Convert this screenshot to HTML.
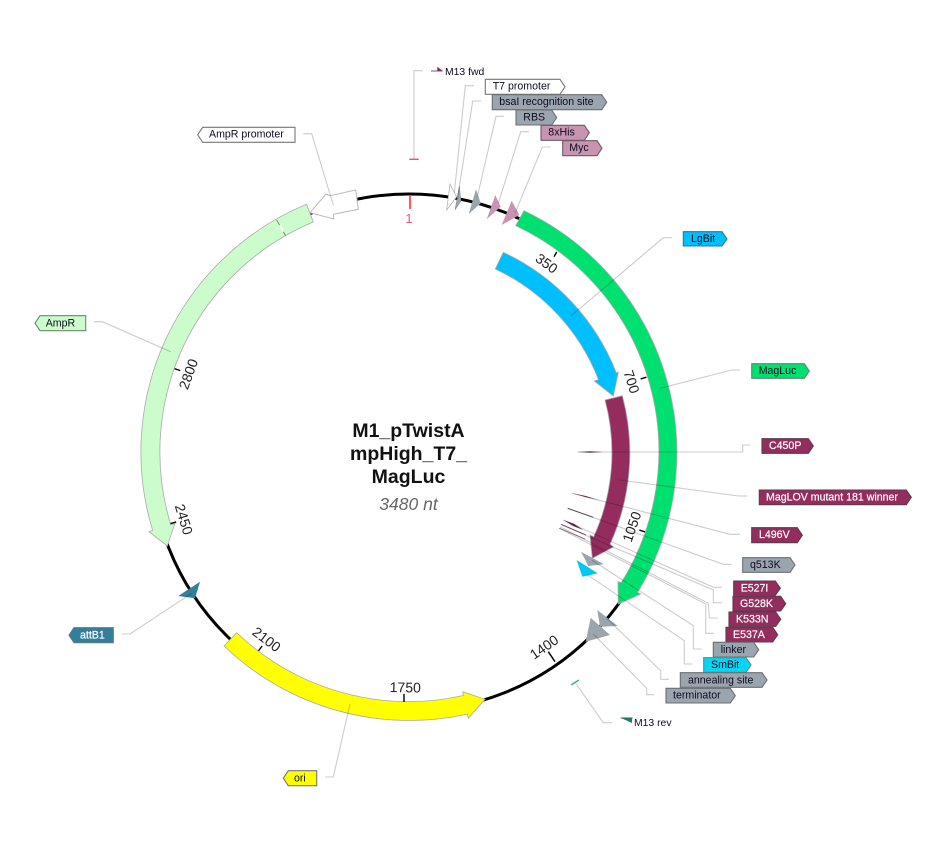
<!DOCTYPE html>
<html>
<head>
<meta charset="utf-8">
<style>
html,body{margin:0;padding:0;background:#fff;width:939px;height:843px;overflow:hidden}
svg{display:block;filter:blur(.3px)}
text{font-family:"Liberation Sans",sans-serif}
.l{font-size:10.6px;fill:#0c0c20}
.w{font-size:10.6px;fill:#fff;stroke:#fff;stroke-width:.2}
.n{font-size:14px;fill:#222;text-anchor:middle;dominant-baseline:central}
.t{font-size:19.5px;font-weight:bold;fill:#111;text-anchor:middle}
.b{stroke:#aaa;stroke-width:.8}
.p polyline{fill:none;stroke:#000;stroke-opacity:.2;stroke-width:1.1}
.lb{stroke-width:1.1}
.g{fill:#9ba5ae;stroke:#6b6f73}
.m{fill:#942d5e;stroke:#5a3a4a}
.pk{fill:#c994b0;stroke:#6d5a65}
.k{stroke:#000;stroke-width:1.4}
</style>
</head>
<body>
<svg width="939" height="843" viewBox="0 0 939 843" xmlns="http://www.w3.org/2000/svg">
<rect width="939" height="843" fill="#fff"/>
<!-- backbone -->
<circle cx="409" cy="452.5" r="258.5" fill="none" stroke="#000" stroke-width="3"/>

<!-- features -->
<path class="b" fill="#00e070" d="M524,210.7 A268 268 0 0 1 637.5,592.5 L640.7,594 L618.3,604 L618,581.7 L621.3,582.6 A249 249 0 0 0 515.7,225.7 Z"/>
<path class="b" fill="#00bfff" d="M503.3,252.3 A222 222 0 0 1 616.3,372.9 L618.3,372.3 L613.3,396 L594.3,381 L598.5,379.7 A203 203 0 0 0 495.3,269 Z"/>
<path class="b" fill="#942d5e" d="M622.3,395.7 A221 221 0 0 1 610.1,544.1 L613.3,547 L592.3,558.3 L590,535 L593.7,536.7 A203 203 0 0 0 605,400 Z"/>
<path class="b" fill="#ffff00" d="M224,646 A268 268 0 0 0 467.5,714.1 L468.3,718.3 L485,699.3 L462.7,691.7 L463.3,695.5 A249 249 0 0 1 236.7,632.7 Z"/>
<path class="b" fill="#ccfccc" d="M306.6,204.3 L313.3,222 A249 249 0 0 0 170.8,524.9 L175,523.3 L167.3,546 L149,531.7 L152.6,530.4 A268 268 0 0 1 306.6,204.3 Z"/>
<line x1="276.7" y1="220" x2="285.7" y2="236" stroke="#777" stroke-width=".8"/>
<line x1="280" y1="225" x2="283.3" y2="231.7" stroke="#fff" stroke-width="1.8"/>
<polygon fill="#fff" stroke="#bbb" stroke-width="1" points="355.7,190 358.3,209.3 333.3,214.3 334,219 310,212.7 326,194 330,195.7"/>

<!-- small triangles -->
<polygon fill="#fff" stroke="#aaa" stroke-width=".7" points="450,184 456.5,197 446.7,210"/>
<polygon fill="#9ba5ae" stroke="#888" stroke-width=".5" points="459.3,186 461,201 455,210"/>
<polygon fill="#9ba5ae" points="476,189.3 480.7,203.3 468.7,214"/>
<polygon fill="#c994b0" points="495.3,195 500.7,206.7 486.7,219.3"/>
<polygon fill="#c994b0" points="511.7,200.7 519.3,215 501.7,225"/>
<polygon fill="#9ba5ae" points="581,551.7 604,564.3 588.3,566"/>
<polygon fill="#00c8f5" points="576.7,560 597.7,573.3 582.3,576.7"/>
<polygon fill="#9ba5ae" points="597.3,610 617.7,626 600,626.7"/>
<polygon fill="#9ba5ae" points="590.7,617.7 610,635 585.7,641.7"/>
<polygon fill="#337f9b" points="200,581.7 178.3,596 195,598.3"/>

<!-- ticks -->
<line class="k" x1="554" y1="256.7" x2="556.7" y2="252"/>
<line class="k" x1="640.6" y1="379" x2="646.4" y2="377.2"/>
<line class="k" x1="639.3" y1="530" x2="645" y2="531.9"/>
<line class="k" x1="548.3" y1="651.7" x2="555" y2="661.7"/>
<line class="k" x1="404" y1="694" x2="404" y2="702"/>
<line class="k" x1="262.1" y1="646" x2="258.5" y2="650.8"/>
<line class="k" x1="176.2" y1="521.9" x2="170.5" y2="523.6"/>
<line class="k" x1="180.2" y1="370.6" x2="174.6" y2="368.6"/>
<line x1="410" y1="196" x2="410" y2="209" stroke="#f22" stroke-width="1.5"/>

<!-- number labels -->
<text class="n" transform="translate(546.7 263.3) rotate(36)">350</text>
<text class="n" transform="translate(631.7 381.7) rotate(72)">700</text>
<text class="n" transform="translate(631.7 526.7) rotate(-71)">1050</text>
<text class="n" transform="translate(544 647) rotate(-35)">1400</text>
<text class="n" transform="translate(405.3 687.3) rotate(1)">1750</text>
<text class="n" transform="translate(266.7 639.3) rotate(37)">2100</text>
<text class="n" transform="translate(184 519.3) rotate(73)">2450</text>
<text class="n" transform="translate(188.3 374) rotate(-70)">2800</text>
<text x="409" y="223" font-size="13" fill="#f0508a" text-anchor="middle">1</text>

<!-- variation marks -->
<polygon fill="#7d3a5c" points="577,452 590,451.2 603,452 590,452.8"/>
<polygon fill="#7d3a5c" points="572.3,493.3 586,496 598.3,500 586,497.2"/>
<line x1="567.7" y1="508.3" x2="593.3" y2="517.3" stroke="#6a5a64" stroke-width=".9"/>
<polygon fill="#6d2a4c" points="563.3,520 574,523.8 583.3,530 573,526"/>
<line x1="561" y1="524.3" x2="586" y2="535" stroke="#7d3a5c" stroke-width=".8"/>
<line x1="559.3" y1="528.3" x2="585" y2="539" stroke="#8a7080" stroke-width=".8"/>

<!-- leaders -->
<g class="p">
<polyline points="414,159 414,70.7 422.7,70.7"/>
<polyline points="474,85.7 465.3,85.7 454.3,193"/>
<polyline points="481,101 472.7,101 457.3,200"/>
<polyline points="504,116.3 496,116.3 477.3,196.7"/>
<polyline points="529,131.7 520.7,131.7 498.3,203.3"/>
<polyline points="550.7,147 542.3,147 515,213.3"/>
<polyline points="303.3,133.7 311.7,133.7 333.3,205"/>
<polyline points="671.7,237.7 663.3,237.7 571,316"/>
<polyline points="740,370 731.7,370 660,388.3"/>
<polyline points="750,445 742.7,445 742.7,452 577.3,452"/>
<polyline points="747.3,496 738.3,496 619.3,480"/>
<polyline points="740,534.3 730,534.3 572.3,493.3"/>
<polyline points="731.7,564.3 723.3,564.3 567.7,508.3"/>
<polyline points="721.7,587.3 713.3,587.3 563.3,520"/>
<polyline points="721.7,602.7 713.3,602.7 713.3,590 561.7,525"/>
<polyline points="717.7,618 709.3,618 708.3,603.3 560,526.7"/>
<polyline points="714,633.3 705.7,633.3 705.7,604 559.3,528.3"/>
<polyline points="701.7,649 693.3,649 693.3,625.7 591.7,560"/>
<polyline points="692.7,664 684.3,664 684.3,640.7 586.7,574.3"/>
<polyline points="669,679.3 660.7,679.3 660.7,670.7 606.7,618.3"/>
<polyline points="654.3,694.7 646.7,694.7 646.7,688.3 593.3,634"/>
<polyline points="94,321.7 102.3,321.7 170.7,351.7"/>
<polyline points="121.7,634 130,634 191.7,593.3"/>
<polyline points="325,777 333.3,777 350,704"/>
<polyline points="575,682.3 603.3,722.7 612.3,722.7"/>
</g>

<!-- primers -->
<line x1="409.3" y1="159.3" x2="418.7" y2="159.3" stroke="#e0559a" stroke-width="1.5"/>
<line x1="431" y1="71" x2="442.7" y2="71" stroke="#7a5a70" stroke-width="1"/>
<polygon fill="#8b1f6b" points="437.3,66.7 442.7,71 437.3,71"/>
<text x="445" y="75" class="l" style="font-size:10.4px">M13 fwd</text>
<line x1="571" y1="685" x2="579" y2="680" stroke="#3cae96" stroke-width="1.4"/>
<line x1="620.7" y1="718" x2="632.7" y2="718" stroke="#3a5a5a" stroke-width="1"/>
<polygon fill="#1f7a66" points="621,718 632,718 632,723"/>
<text x="634" y="726" class="l" style="font-size:10.4px">M13 rev</text>

<!-- labels -->
<polygon class="lb" fill="#fff" stroke="#777" points="485.3,79.3 560,79.3 565,86.8 560,94.3 485.3,94.3"/>
<text x="492.7" y="89.5" class="l">T7 promoter</text>
<polygon class="lb g" points="492.3,94.7 601.7,94.7 606.7,102.2 601.7,109.7 492.3,109.7"/>
<text x="499.3" y="105" class="l">bsaI recognition site</text>
<polygon class="lb g" points="516,110 551.7,110 556.7,117.5 551.7,125 516,125"/>
<text x="523.3" y="120.3" class="l">RBS</text>
<polygon class="lb pk" points="541,125.3 584.3,125.3 589.3,132.8 584.3,140.3 541,140.3"/>
<text x="548.3" y="135.6" class="l">8xHis</text>
<polygon class="lb pk" points="562.7,140.7 597,140.7 602,148.2 597,155.7 562.7,155.7"/>
<text x="569.3" y="151" class="l">Myc</text>
<polygon class="lb" fill="#fff" stroke="#777" points="197.7,134.8 202.7,127.3 295,127.3 295,142.3 202.7,142.3"/>
<text x="209" y="137.5" class="l">AmpR promoter</text>
<polygon class="lb" fill="#00bfff" stroke="#2a7a9a" points="683.3,231.7 722,231.7 727,239 722,246 683.3,246"/>
<text x="691" y="242" class="l">LgBit</text>
<polygon class="lb" fill="#00e070" stroke="#5a8a70" points="751.7,363.7 804.3,363.7 809.3,371 804.3,378.3 751.7,378.3"/>
<text x="758.7" y="374" class="l">MagLuc</text>
<polygon class="lb m" points="762,438.7 808.3,438.7 813.3,446 808.3,453.3 762,453.3"/>
<text x="769" y="449" class="w">C450P</text>
<polygon class="lb m" points="759.3,490 906.3,490 911.3,497.3 906.3,504.7 759.3,504.7"/>
<text x="766" y="500.3" class="w">MagLOV mutant 181 winner</text>
<polygon class="lb m" points="751.7,527.7 797.3,527.7 802.3,535.2 797.3,542.7 751.7,542.7"/>
<text x="759" y="538" class="w">L496V</text>
<polygon class="lb g" points="742.7,557.7 790,557.7 795,565 790,572.3 742.7,572.3"/>
<text x="750" y="568" class="l">q513K</text>
<polygon class="lb m" points="733.7,581 775.3,581 780.3,588.2 775.3,595.3 733.7,595.3"/>
<text x="740.7" y="591.5" class="w">E527I</text>
<polygon class="lb m" points="733,596.3 780.7,596.3 785.7,603.7 780.7,611 733,611"/>
<text x="740" y="607" class="w">G528K</text>
<polygon class="lb m" points="729,612 775.7,612 780.7,619.2 775.7,626.3 729,626.3"/>
<text x="736" y="622.5" class="w">K533N</text>
<polygon class="lb m" points="726,627.3 772.7,627.3 777.7,634.7 772.7,642 726,642"/>
<text x="733" y="638" class="w">E537A</text>
<polygon class="lb g" points="713.3,642.3 753.7,642.3 758.7,649.7 753.7,657 713.3,657"/>
<text x="720.7" y="653" class="l">linker</text>
<polygon class="lb" fill="#00d8f5" stroke="#5a8a95" points="703.7,657.7 746,657.7 751,665 746,672.3 703.7,672.3"/>
<text x="711" y="668" class="l">SmBit</text>
<polygon class="lb g" points="680.3,672.7 762,672.7 767,680 762,687.3 680.3,687.3"/>
<text x="688" y="683.3" class="l">annealing site</text>
<polygon class="lb g" points="666,688.3 730.3,688.3 735.3,695.7 730.3,703 666,703"/>
<text x="673" y="698.7" class="l">terminator</text>
<polygon class="lb" fill="#ccfccc" stroke="#6a8a6a" points="35,323.2 40,315.7 85.7,315.7 85.7,330.7 40,330.7"/>
<text x="45.7" y="326.5" class="l">AmpR</text>
<polygon class="lb" fill="#337f9b" stroke="#5a7a88" points="69,635.2 74,627.7 113.3,627.7 113.3,642.7 74,642.7"/>
<text x="80" y="638.5" class="w">attB1</text>
<polygon class="lb" fill="#ffff00" stroke="#777" points="283.3,778.2 288.3,770.7 316.7,770.7 316.7,785.7 288.3,785.7"/>
<text x="294" y="781.5" class="l">ori</text>

<!-- centre title -->
<text x="408.5" y="437" class="t">M1_pTwistA</text>
<text x="408.5" y="460" class="t">mpHigh_T7_</text>
<text x="408.5" y="483" class="t">MagLuc</text>
<text x="408.5" y="510" font-size="17.5" font-style="italic" fill="#666" text-anchor="middle">3480 nt</text>
</svg>
</body>
</html>
